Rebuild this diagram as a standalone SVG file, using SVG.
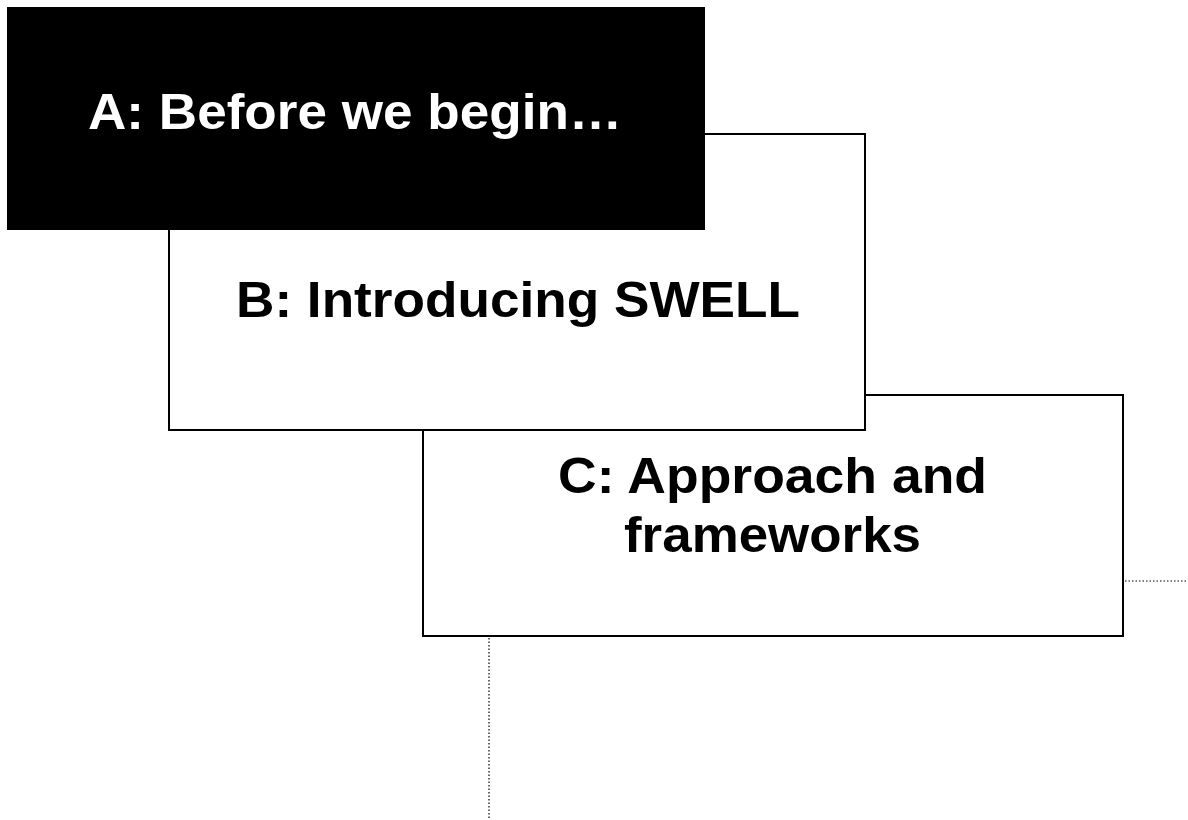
<svg xmlns="http://www.w3.org/2000/svg" width="1188" height="820" viewBox="0 0 1188 820">
  <style>
    .box { fill: #ffffff; stroke: #000000; stroke-width: 2; }
    .box-dark { fill: #000000; stroke: #000000; stroke-width: 2; }
    .label { font-family: "Liberation Sans", Arial, sans-serif; font-weight: bold; font-size: 50px; text-anchor: middle; fill: #000000; }
    .label-light { fill: #ffffff; }
    .dotted { stroke: #000000; stroke-width: 1.2; stroke-dasharray: 1.5 2; fill: none; }
  </style>
  <g id="connectors">
    <line class="dotted" x1="1125" y1="581" x2="1188" y2="581"/>
    <line class="dotted" x1="489" y1="638" x2="489" y2="820"/>
  </g>
  <g id="node-c">
    <rect class="box" x="423" y="395" width="700" height="241"/>
    <text class="label" x="772.5" y="493" textLength="429" lengthAdjust="spacingAndGlyphs">C: Approach and</text>
    <text class="label" x="772.5" y="552" textLength="297" lengthAdjust="spacingAndGlyphs">frameworks</text>
  </g>
  <g id="node-b">
    <rect class="box" x="169" y="134" width="696" height="296"/>
    <text class="label" x="518" y="317" textLength="564" lengthAdjust="spacingAndGlyphs">B: Introducing SWELL</text>
  </g>
  <g id="node-a">
    <rect class="box-dark" x="8" y="8" width="696" height="221"/>
    <text class="label label-light" x="355" y="129" textLength="534" lengthAdjust="spacingAndGlyphs">A: Before we begin…</text>
  </g>
</svg>
